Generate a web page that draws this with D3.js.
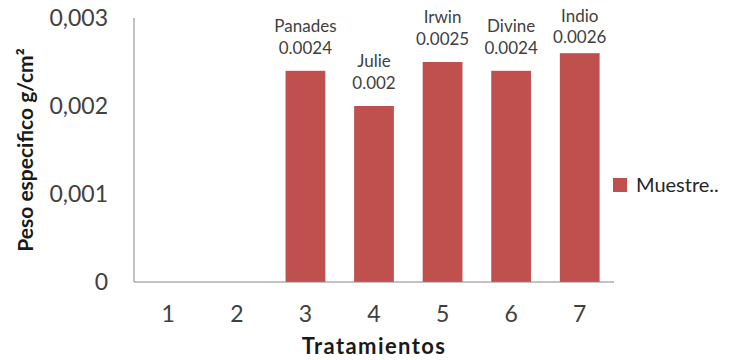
<!DOCTYPE html>
<html>
<head>
<meta charset="utf-8">
<script src="https://cdn.jsdelivr.net/npm/d3@7/dist/d3.min.js"></script>
<style>
  html, body { margin: 0; padding: 0; background: #fff; }
  svg { display: block; font-family: Lato, "Open Sans", sans-serif; }
</style>
</head>
<body>
<svg id="chart" width="741" height="360"></svg>
<script>
// Tratamientos and their specific weight (g/cm²)
const categories = ["1", "2", "3", "4", "5", "6", "7"];
const values = [null, null, 0.0024, 0.002, 0.0025, 0.0024, 0.0026];
const varieties = ["", "", "Panades", "Julie", "Irwin", "Divine", "Indio"];
const yTicks = [0, 0.001, 0.002, 0.003];
const yTickLabels = ["0", "0,001", "0,002", "0,003"];
const seriesName = "Muestre..";

const svg = d3.select("#chart");
const margin = { left: 134, right: 127, top: 18, bottom: 78 };
const W = 741, H = 360;

const x = d3.scaleBand()
  .domain(categories)
  .range([margin.left, W - margin.right])
  .paddingInner(0.42)
  .paddingOuter(0.21);

const y = d3.scaleLinear()
  .domain([0, 0.003])
  .range([H - margin.bottom, margin.top]);

const barColor = "#c0504d";
const textColor = "#404040";

// Bars
const rows = categories.map((c, i) => ({ c, v: values[i], name: varieties[i] }))
  .filter(d => d.v != null);

svg.append("g").selectAll("rect")
  .data(rows)
  .join("rect")
  .attr("x", d => x(d.c))
  .attr("width", x.bandwidth())
  .attr("y", d => y(d.v))
  .attr("height", d => y(0) - y(d.v))
  .attr("fill", barColor);

// Axis lines
svg.append("line")
  .attr("x1", margin.left).attr("x2", margin.left)
  .attr("y1", y(0.003)).attr("y2", y(0))
  .attr("stroke", "#868686").attr("stroke-width", 1);
svg.append("line")
  .attr("x1", margin.left).attr("x2", W - margin.right)
  .attr("y1", y(0)).attr("y2", y(0))
  .attr("stroke", "#868686").attr("stroke-width", 1);

// Y axis tick labels
const yAxis = d3.axisLeft(y)
  .tickValues(yTicks)
  .tickFormat((d, i) => yTickLabels[i])
  .tickSize(0)
  .tickPadding(26);
const gy = svg.append("g")
  .attr("transform", `translate(${margin.left},0)`)
  .call(yAxis);
gy.select(".domain").remove();
gy.selectAll("text")
  .attr("fill", textColor)
  .style("font-size", "23px")
  .style("font-family", "Lato, sans-serif");

// X axis tick labels
const xAxis = d3.axisBottom(x).tickSize(0).tickPadding(24);
const gx = svg.append("g")
  .attr("transform", `translate(0,${y(0)})`)
  .call(xAxis);
gx.select(".domain").remove();
gx.selectAll("text")
  .attr("fill", textColor)
  .style("font-size", "23px")
  .style("font-family", "Lato, sans-serif");

// Data labels: variety name above value, kept inside the top of the chart area
const nameY = d => Math.max(y(d.v) - 39, 22);
const valY = d => Math.max(y(d.v) - 17, nameY(d) + 21);
const labels = svg.append("g")
  .attr("fill", textColor)
  .attr("text-anchor", "middle")
  .style("font-size", "17px");
labels.selectAll("text.val")
  .data(rows)
  .join("text")
  .attr("class", "val")
  .attr("x", d => x(d.c) + x.bandwidth() / 2)
  .attr("y", valY)
  .text(d => String(d.v));
labels.selectAll("text.name")
  .data(rows)
  .join("text")
  .attr("class", "name")
  .attr("x", d => x(d.c) + x.bandwidth() / 2)
  .attr("y", nameY)
  .text(d => d.name);

// Axis titles
svg.append("text")
  .attr("x", (margin.left + W - margin.right) / 2)
  .attr("y", 354)
  .attr("text-anchor", "middle")
  .attr("fill", "#1a1a1a")
  .style("font-size", "22px")
  .style("letter-spacing", "1.4px")
  .style("font-weight", "bold")
  .text("Tratamientos");

svg.append("text")
  .attr("transform", `translate(33,150) rotate(-90)`)
  .attr("text-anchor", "middle")
  .attr("fill", "#1a1a1a")
  .style("font-size", "21px")
  .style("font-weight", "bold")
  .text("Peso especifico g/cm²");

// Legend
const lg = svg.append("g").attr("transform", "translate(613,178)");
lg.append("rect").attr("width", 14).attr("height", 14).attr("fill", barColor);
lg.append("text")
  .attr("x", 23).attr("y", 14)
  .attr("fill", "#262626")
  .style("font-size", "20px")
  .text(seriesName);
</script>
</body>
</html>
